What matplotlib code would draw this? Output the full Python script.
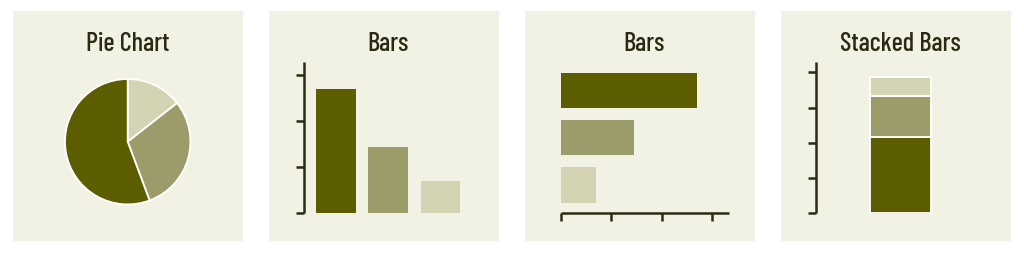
import numpy as np
import matplotlib
matplotlib.use("Agg")
import matplotlib.pyplot as plt

# ----- data -----
shares = [54, 29, 14]           # dark, medium, light
titles = ["Pie Chart", "Bars", "Bars", "Stacked Bars"]
colors = ["#5c5c00", "#9c9c6a", "#d4d4b4"]
BG = "#f2f2e4"
INK = "#2b2b12"

W, H = 1024, 255
plt.rcParams["font.family"] = ["Barlow Condensed", "Fira Sans Condensed", "DejaVu Sans"]
plt.rcParams["font.stretch"] = "condensed"

fig = plt.figure(figsize=(W / 100, H / 100), dpi=100, facecolor="white")


def px_axes(x0, y0, x1, y1, **kw):
    """axes from pixel box (top-left origin)"""
    return fig.add_axes([x0 / W, 1 - y1 / H, (x1 - x0) / W, (y1 - y0) / H], **kw)


def style_spine(ax, which):
    for s in ["left", "right", "top", "bottom"]:
        ax.spines[s].set_visible(s == which)
    ax.spines[which].set_linewidth(1.8)
    ax.spines[which].set_color(INK)
    ax.spines[which].set_capstyle("butt")
    ax.patch.set_visible(False)
    ax.tick_params(length=5.5, width=1.8, color=INK, labelleft=False, labelbottom=False,
                   left=(which == "left"), bottom=(which == "bottom"))


# panel backgrounds + titles
panels = [13, 269, 525, 781]
title_x = [128, 388, 644, 900]
for x0, tx, t in zip(panels, title_x, titles):
    bg = px_axes(x0, 12, x0 + 230, 242)
    bg.set_facecolor(BG)
    bg.set_xticks([]); bg.set_yticks([])
    for s in bg.spines.values():
        s.set_visible(False)
    fig.text(tx / W, 1 - 51 / H, t, ha="center", va="baseline", fontsize=19,
             fontweight="medium", color=INK)

# ---- pie ----
ax = px_axes(65, 80, 190.4, 205.4)
ax.pie(shares[::-1], colors=colors[::-1], startangle=90, counterclock=False,
       radius=1, wedgeprops=dict(edgecolor="white", linewidth=1.3))
ax.set_xlim(-1, 1); ax.set_ylim(-1, 1)
ax.set_aspect("equal")

# ---- vertical bars ----
ax = px_axes(304.3, 62.7, 470, 214.3)
x = np.arange(len(shares))
ax.bar(x, shares, width=0.76, color=colors)
ax.set_xlim(-0.603, 2.565)
ax.set_ylim(0, 65.9)
ax.set_yticks([0, 20, 40, 60])
style_spine(ax, "left")

# ---- horizontal bars ----
ax = px_axes(561, 62.7, 728.7, 214.3)
y = np.arange(len(shares))[::-1]
ax.barh(y, shares, height=0.75, color=colors)
ax.set_ylim(-0.6, 2.61)
ax.set_xlim(0, 66.5)
ax.set_xticks([0, 20, 40, 60])
style_spine(ax, "bottom")

# ---- stacked bar ----
ax = px_axes(816.3, 62.7, 966.3, 214.3)
bottom = 0
for v, c in zip(shares, colors):
    ax.bar([0], [v], bottom=bottom, width=0.6, color=c, edgecolor="white", linewidth=1.3)
    bottom += v
ax.set_xlim(-0.825, 0.65)
ax.set_ylim(0, 107.5)
ax.set_yticks([0, 25, 50, 75, 100])
style_spine(ax, "left")

fig.savefig("out.png", dpi=100, facecolor="white")
